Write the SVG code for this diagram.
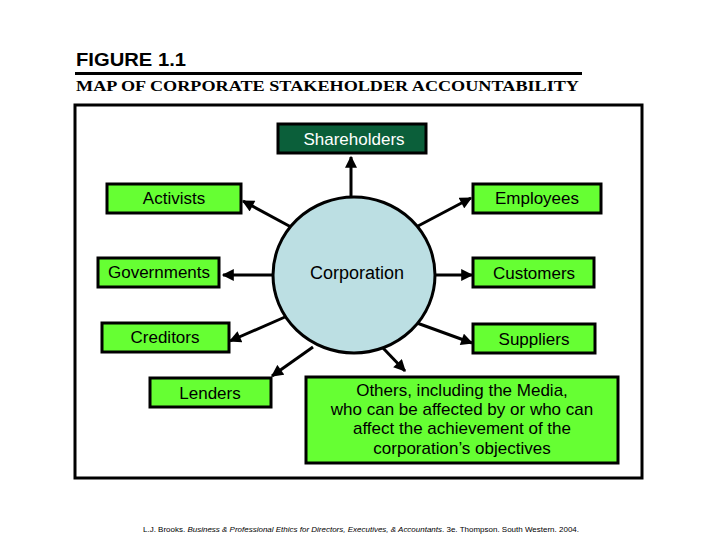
<svg xmlns="http://www.w3.org/2000/svg" width="720" height="540" viewBox="0 0 720 540">
<defs>
<marker id="ah" viewBox="0 0 10 10" refX="9" refY="5" markerWidth="4.3" markerHeight="4" orient="auto" markerUnits="strokeWidth">
<path d="M0,0 L10,5 L0,10 z" fill="#000"/>
</marker>
<style>
.box{fill:#66ff33;stroke:#000;stroke-width:3}
.lbl{font-family:"Liberation Sans",Arial,sans-serif;font-size:17px;fill:#000;text-anchor:middle;dominant-baseline:central}
.con{stroke:#000;stroke-width:3;fill:none;marker-end:url(#ah)}
</style>
</defs>
<rect width="720" height="540" fill="#fff"/>
<g id="title">
<text x="76" y="66" font-family="Liberation Sans,Arial,sans-serif" font-size="19" font-weight="bold" textLength="110" lengthAdjust="spacingAndGlyphs">FIGURE 1.1</text>
<line x1="75" y1="73.5" x2="582" y2="73.5" stroke="#000" stroke-width="3"/>
<text x="76" y="91" font-family="Liberation Serif,'Times New Roman',serif" font-size="15" font-weight="bold" textLength="503" lengthAdjust="spacingAndGlyphs">MAP OF CORPORATE STAKEHOLDER ACCOUNTABILITY</text>
</g>
<rect id="frame" x="75" y="105" width="567" height="373" fill="none" stroke="#000" stroke-width="3"/>
<g id="connectors">
<line class="con" x1="351" y1="197" x2="351" y2="157"/>
<line class="con" x1="291" y1="227" x2="243" y2="201"/>
<line class="con" x1="418" y1="226" x2="471" y2="198"/>
<line class="con" x1="273" y1="275" x2="223" y2="275"/>
<line class="con" x1="435" y1="275" x2="472" y2="275"/>
<line class="con" x1="285" y1="317" x2="230" y2="341"/>
<line class="con" x1="417" y1="323" x2="472" y2="343"/>
<line class="con" x1="313" y1="347" x2="272" y2="376"/>
<line class="con" x1="383" y1="348" x2="405" y2="371"/>
</g>
<g id="corporation">
<ellipse cx="354" cy="275" rx="81" ry="78" fill="#bcdfe3" stroke="#000" stroke-width="3"/>
<text class="lbl" x="357" y="273" style="font-size:18px">Corporation</text>
</g>
<g id="shareholders">
<rect x="278" y="124" width="148" height="29" fill="#0b5f3a" stroke="#000" stroke-width="3"/>
<text class="lbl" x="354" y="139" style="fill:#fff">Shareholders</text>
</g>
<g id="activists">
<rect class="box" x="107" y="184" width="134" height="29"/>
<text class="lbl" x="174" y="198">Activists</text>
</g>
<g id="employees">
<rect class="box" x="473" y="184" width="128" height="29"/>
<text class="lbl" x="537" y="198">Employees</text>
</g>
<g id="governments">
<rect class="box" x="98" y="258" width="121" height="29"/>
<text class="lbl" x="159" y="272">Governments</text>
</g>
<g id="customers">
<rect class="box" x="473" y="258" width="121" height="29"/>
<text class="lbl" x="534" y="273">Customers</text>
</g>
<g id="creditors">
<rect class="box" x="102" y="323" width="127" height="29"/>
<text class="lbl" x="165" y="337">Creditors</text>
</g>
<g id="suppliers">
<rect class="box" x="473" y="324" width="122" height="29"/>
<text class="lbl" x="534" y="339">Suppliers</text>
</g>
<g id="lenders">
<rect class="box" x="150" y="378" width="121" height="29"/>
<text class="lbl" x="210" y="393">Lenders</text>
</g>
<g id="others">
<rect class="box" x="306" y="377" width="312" height="86"/>
<text class="lbl" x="462" y="390">Others, including the Media,</text>
<text class="lbl" x="462" y="409">who can be affected by or who can</text>
<text class="lbl" x="462" y="428">affect the achievement of the</text>
<text class="lbl" x="462" y="448">corporation’s objectives</text>
</g>
<text x="143" y="532" font-family="Liberation Sans,Arial,sans-serif" font-size="7" textLength="436" lengthAdjust="spacingAndGlyphs">L.J. Brooks. <tspan font-style="italic">Business &amp; Professional Ethics for Directors, Executives, &amp; Accountants</tspan>. 3e. Thompson. South Western. 2004.</text>
</svg>
